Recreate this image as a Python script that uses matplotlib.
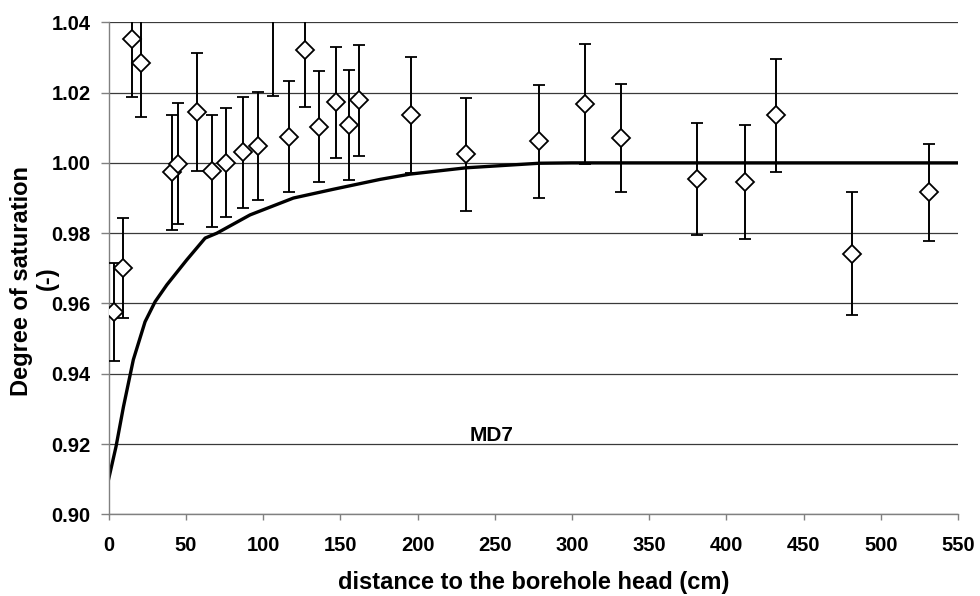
import matplotlib
matplotlib.use("Agg")
import matplotlib.pyplot as plt
import numpy as np

# ---------------------------------------------------------------------
# Data
# ---------------------------------------------------------------------
DIST = [3.2, 9.1, 15.1, 21.1, 41.0, 44.7, 57.2, 66.9, 76.2, 86.8, 96.5,
        106.4, 116.6, 126.9, 136.4, 147.0, 155.4, 161.9, 195.6, 231.4,
        278.9, 308.5, 331.6, 381.2, 411.9, 431.8, 481.6, 530.9]
SAT = [0.9575, 0.9700, 1.0352, 1.0283, 0.9973, 0.9997, 1.0145, 0.9977,
       1.0001, 1.0030, 1.0048, 1.0520, 1.0075, 1.0321, 1.0103, 1.0173,
       1.0107, 1.0178, 1.0135, 1.0024, 1.0061, 1.0168, 1.0071, 0.9954,
       0.9946, 1.0135, 0.9741, 0.9917]
ERR = [0.0140, 0.0142, 0.0164, 0.0152, 0.0163, 0.0172, 0.0168, 0.0160,
       0.0155, 0.0158, 0.0155, 0.0330, 0.0158, 0.0163, 0.0158, 0.0158,
       0.0157, 0.0158, 0.0165, 0.0160, 0.0162, 0.0170, 0.0154, 0.0160,
       0.0162, 0.0160, 0.0175, 0.0138]

CURVE_X = [0, 4.7, 9.5, 15.9, 23.5, 30, 37.6, 50.5, 62.4, 70, 91.5,
           119.6, 145.5, 175.7, 195, 231.4, 278.9, 300, 550]
CURVE_Y = [0.9102, 0.9193, 0.9306, 0.9440, 0.9548, 0.9605, 0.9653, 0.9724,
           0.9786, 0.9800, 0.9852, 0.9900, 0.9925, 0.9953, 0.9968, 0.9986,
           0.9999, 1.0000, 1.0000]

X_TICKS = np.arange(0, 551, 50)
Y_TICKS = np.arange(0.90, 1.041, 0.02)

FONT = ["Liberation Sans", "DejaVu Sans"]

# ---------------------------------------------------------------------
# Plot
# ---------------------------------------------------------------------
plt.rcParams["font.family"] = FONT
plt.rcParams["font.weight"] = "bold"

fig = plt.figure(figsize=(9.8, 5.96), dpi=100)
ax = fig.add_axes([0.111, 0.137, 0.8666, 0.8256])

ax.set_xlim(0, 550)
ax.set_ylim(0.90, 1.04)

for y in Y_TICKS:
    ax.axhline(y, color="#3a3a3a", linewidth=0.9, zorder=1)

ax.plot(CURVE_X, CURVE_Y, color="black", linewidth=2.4, zorder=2)

ax.errorbar(DIST, SAT, yerr=ERR, fmt="D", markersize=9,
            markerfacecolor="white", markeredgecolor="black",
            markeredgewidth=1.3, ecolor="black", elinewidth=1.4,
            capsize=4.5, capthick=1.4, zorder=3)

ax.text(247.6, 0.9223, "MD7", fontsize=15, fontweight="bold",
        ha="center", va="center")

ax.set_xticks(X_TICKS)
ax.set_yticks(Y_TICKS)
ax.set_yticklabels([f"{v:.2f}" for v in Y_TICKS])
ax.tick_params(axis="both", labelsize=14.5, labelcolor="black",
               color="#808080", direction="out", width=1)
ax.tick_params(axis="x", length=4.5, pad=11)
ax.tick_params(axis="y", length=6, pad=7)

for side in ["top", "right"]:
    ax.spines[side].set_visible(False)
for side in ["left", "bottom"]:
    ax.spines[side].set_color("#808080")
    ax.spines[side].set_linewidth(1.0)

ax.set_xlabel("distance to the borehole head (cm)", fontsize=17,
              fontweight="bold")
ax.xaxis.set_label_coords(0.5, -0.1375)
ax.xaxis.label.set_va("center")

# two-line y label: main text as the axis label, unit as a second text
ax.set_ylabel("Degree of saturation", fontsize=17, fontweight="bold")
ax.yaxis.set_label_coords(-0.1022, 0.474)
ax.yaxis.label.set_va("center")
ax.text(-0.0727, 0.480, "(-)", transform=ax.transAxes, rotation=90,
        fontsize=17, fontweight="bold", ha="center", va="center")

fig.savefig("out.png", dpi=100)
